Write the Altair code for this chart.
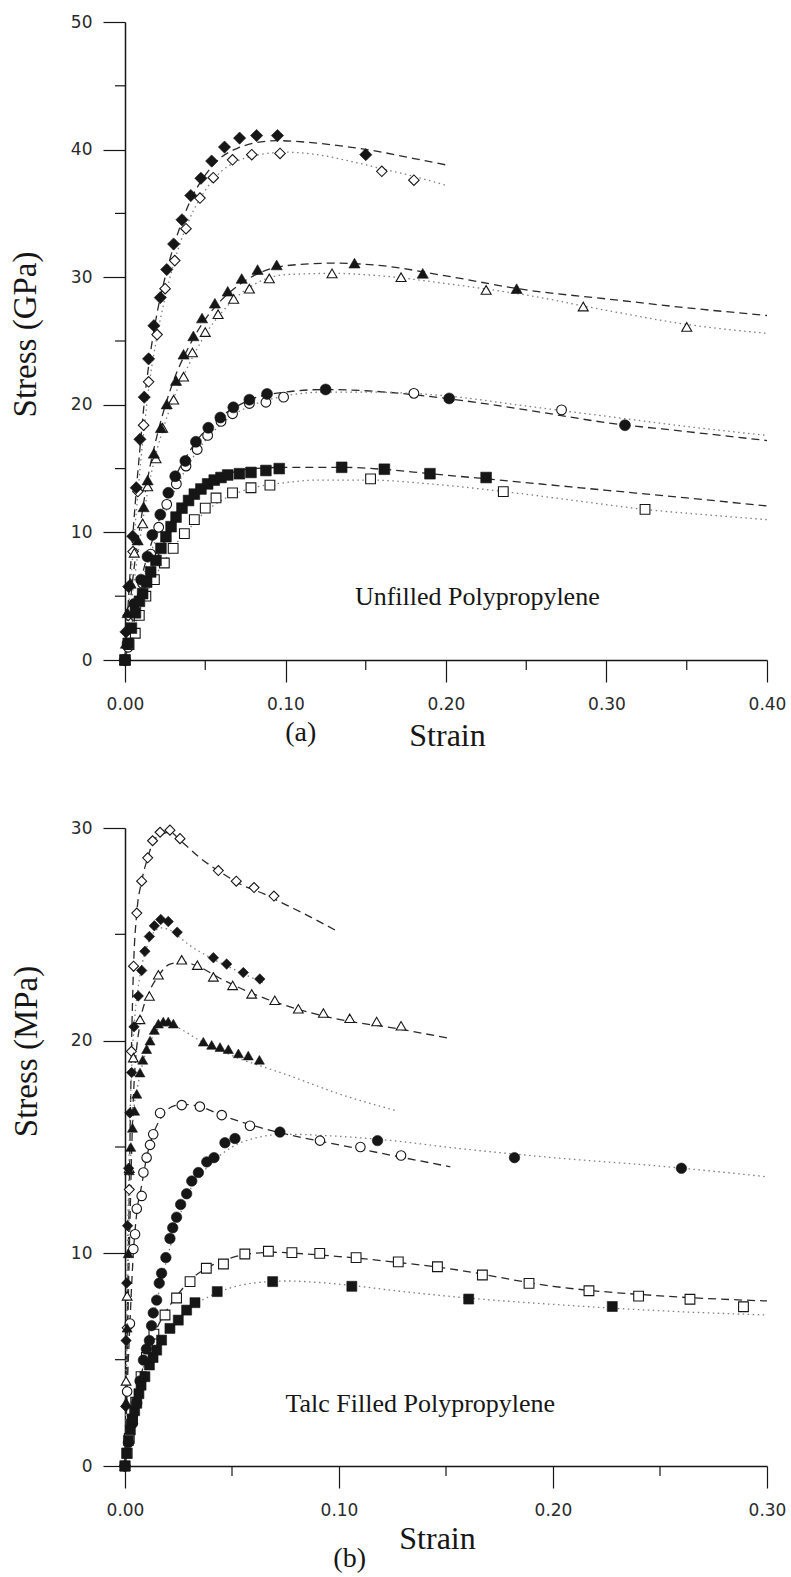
import altair as alt
import pandas as pd

# ---------------- (a) Unfilled polypropylene ----------------
# measured points, strain / stress (GPa)
a_dia_f_x = [0, 0.0006, 0.0023, 0.0048, 0.007, 0.0093, 0.012, 0.0147, 0.018, 0.022, 0.026, 0.0303,
             0.0355, 0.041, 0.0473, 0.054, 0.062, 0.0714, 0.082, 0.095, 0.15]
a_dia_f_y = [0, 2.2, 5.75, 9.7, 13.5, 17.3, 20.6, 23.6, 26.2, 28.4, 30.6, 32.6,
             34.5, 36.4, 37.75, 39.1, 40.2, 40.9, 41.1, 41.1, 39.6]
a_dia_o_x = [0, 0.002, 0.005, 0.008, 0.0116, 0.0147, 0.02, 0.025, 0.031, 0.038, 0.0467, 0.055,
             0.067, 0.079, 0.0966, 0.16, 0.18]
a_dia_o_y = [0, 3.5, 8.5, 13.2, 18.4, 21.8, 25.5, 29.1, 31.3, 33.8, 36.2, 37.8,
             39.2, 39.6, 39.7, 38.3, 37.6]
a_tri_f_x = [0, 0.0006, 0.0016, 0.0035, 0.0079, 0.0116, 0.0141, 0.018, 0.0224, 0.026, 0.0318, 0.0365,
             0.0426, 0.048, 0.056, 0.064, 0.0727, 0.0826, 0.0945, 0.143, 0.1855, 0.244]
a_tri_f_y = [0, 1.3, 3.7, 6.0, 9.4, 12.0, 14.1, 16.2, 18.2, 20.06, 21.9, 23.96,
             25.4, 26.8, 27.96, 28.9, 29.9, 30.6, 30.96, 31.1, 30.3, 29.1]
a_tri_o_x = [0, 0.003, 0.0058, 0.011, 0.0141, 0.0193, 0.0234, 0.0303, 0.0365, 0.042, 0.05, 0.058,
             0.0677, 0.0775, 0.0899, 0.129, 0.172, 0.225, 0.2855, 0.35]
a_tri_o_y = [0, 4.0, 8.4, 10.7, 13.6, 15.8, 18.2, 20.4, 22.2, 24.1, 25.7, 27.1,
             28.3, 29.1, 29.9, 30.3, 30.0, 29.0, 27.7, 26.1]
a_cir_f_x = [0, 0.0016, 0.0058, 0.01, 0.014, 0.017, 0.022, 0.027, 0.0313, 0.0376, 0.0442, 0.0519,
             0.0594, 0.0675, 0.0775, 0.0885, 0.125, 0.202, 0.3115]
a_cir_f_y = [0, 1.3, 4.4, 6.3, 8.1, 9.8, 11.4, 13.1, 14.4, 15.6, 17.1, 18.2,
             19.0, 19.8, 20.4, 20.85, 21.2, 20.5, 18.4]
a_cir_o_x = [0, 0.002, 0.006, 0.011, 0.016, 0.021, 0.026, 0.032, 0.038, 0.045, 0.0515, 0.0598,
             0.067, 0.0775, 0.0878, 0.0988, 0.18, 0.272]
a_cir_o_y = [0, 1.0, 3.5, 6.0, 8.3, 10.4, 12.2, 13.8, 15.2, 16.5, 17.6, 18.7,
             19.3, 20.1, 20.2, 20.6, 20.9, 19.6]
a_sq_f_x = [0, 0.002, 0.004, 0.0065, 0.009, 0.011, 0.0135, 0.016, 0.0193, 0.0224, 0.0255, 0.0287,
            0.0318, 0.0355, 0.0396, 0.0432, 0.0473, 0.0515, 0.0556, 0.0598, 0.064, 0.0713, 0.0785,
            0.0878, 0.0961, 0.135, 0.1616, 0.19, 0.225]
a_sq_f_y = [0, 1.3, 2.5, 3.7, 4.6, 5.2, 6.1, 6.9, 7.8, 8.75, 9.66, 10.45,
            11.2, 11.9, 12.5, 13.0, 13.4, 13.8, 14.1, 14.3, 14.5, 14.6, 14.7,
            14.85, 15.0, 15.1, 14.95, 14.6, 14.3]
a_sq_o_x = [0, 0.0025, 0.0064, 0.0089, 0.013, 0.0183, 0.0245, 0.03, 0.037, 0.0432, 0.05, 0.0567,
            0.067, 0.0785, 0.0903, 0.153, 0.2357, 0.324]
a_sq_o_y = [0, 1.2, 2.1, 3.5, 5.0, 6.3, 7.6, 8.75, 9.9, 11.0, 11.9, 12.7,
            13.1, 13.5, 13.7, 14.2, 13.2, 11.8]

# fitted curves (dashed = filled symbols, dotted = open symbols)
a_fit_dia_f_x = [0, 0.0025, 0.005, 0.0075, 0.01, 0.0125, 0.015, 0.02, 0.025, 0.03, 0.035, 0.04, 0.05,
                 0.06, 0.07, 0.08, 0.095, 0.12, 0.14, 0.16, 0.18, 0.2]
a_fit_dia_f_y = [0, 5.5, 10.0, 14.0, 17.5, 20.8, 23.3, 27.2, 30.0, 32.3, 34.2, 35.8, 38.0,
                 39.4, 40.1, 40.5, 40.7, 40.5, 40.2, 39.8, 39.3, 38.8]
a_fit_dia_o_x = [0, 0.0025, 0.005, 0.0075, 0.01, 0.0125, 0.015, 0.02, 0.025, 0.03, 0.035, 0.04, 0.05,
                 0.06, 0.07, 0.08, 0.1, 0.12, 0.14, 0.16, 0.18, 0.2]
a_fit_dia_o_y = [0, 4.5, 8.5, 12.3, 15.8, 18.8, 21.5, 25.4, 28.4, 30.9, 32.9, 34.5, 36.8,
                 38.3, 39.1, 39.5, 39.8, 39.6, 39.1, 38.5, 37.9, 37.2]
a_fit_tri_x = [0, 0.005, 0.01, 0.015, 0.02, 0.025, 0.03, 0.04, 0.05, 0.06, 0.07, 0.08, 0.1,
               0.13, 0.16, 0.2, 0.25, 0.3, 0.35, 0.4]
a_fit_tri_f_y = [0, 6.5, 11.0, 14.8, 17.6, 19.9, 21.8, 24.6, 26.7, 28.2, 29.3, 30.1, 30.9,
                 31.1, 30.9, 30.1, 29.0, 28.3, 27.6, 27.0]
a_fit_tri_o_y = [0, 5.5, 10.0, 13.8, 16.5, 18.6, 20.4, 23.2, 25.5, 27.2, 28.5, 29.4, 30.2,
                 30.3, 30.1, 29.5, 28.6, 27.4, 26.3, 25.6]
a_fit_cir_x = [0, 0.01, 0.02, 0.03, 0.04, 0.05, 0.06, 0.07, 0.08, 0.1, 0.125, 0.15, 0.2, 0.25,
               0.3, 0.35, 0.4]
a_fit_cir_f_y = [0, 6.3, 10.5, 14.0, 16.3, 18.0, 19.1, 19.9, 20.5, 21.0, 21.2, 21.1, 20.5, 19.6,
                 18.6, 17.9, 17.2]
a_fit_cir_o_y = [0, 5.8, 9.8, 13.0, 15.4, 17.2, 18.5, 19.4, 20.0, 20.7, 21.0, 21.0, 20.7, 19.9,
                 19.1, 18.3, 17.6]
a_fit_sq_f_x = [0, 0.01, 0.02, 0.03, 0.04, 0.05, 0.06, 0.07, 0.08, 0.1, 0.135, 0.16, 0.19, 0.225,
                0.3, 0.35, 0.4]
a_fit_sq_f_y = [0, 5.0, 8.0, 10.6, 12.5, 13.7, 14.4, 14.8, 15.0, 15.1, 15.1, 14.95, 14.6, 14.2,
                13.3, 12.7, 12.07]
a_fit_sq_o_x = [0, 0.01, 0.02, 0.03, 0.04, 0.05, 0.06, 0.07, 0.08, 0.1, 0.12, 0.153, 0.19, 0.236,
                0.28, 0.324, 0.36, 0.4]
a_fit_sq_o_y = [0, 4.2, 6.8, 8.8, 10.3, 11.6, 12.5, 13.1, 13.5, 13.9, 14.1, 14.1, 13.8, 13.2,
                12.5, 11.8, 11.4, 11.0]

# ---------------- (b) Talc filled polypropylene ----------------
# measured points, strain / stress (MPa)
b_dia_o_x = [0, 0.001, 0.002, 0.003, 0.004, 0.0055, 0.0078, 0.0106, 0.0129, 0.0164, 0.021, 0.0257,
             0.0436, 0.052, 0.0603, 0.0696]
b_dia_o_y = [0, 6.5, 13.0, 19.5, 23.5, 26.0, 27.5, 28.6, 29.4, 29.8, 29.9, 29.5,
             28.0, 27.5, 27.2, 26.8]
b_dia_f_x = [0, 0.0003, 0.0005, 0.0008, 0.0012, 0.0017, 0.0023, 0.0031, 0.0042, 0.0062, 0.0078,
             0.0093, 0.0114, 0.0137, 0.0167, 0.0202, 0.0244, 0.0413, 0.0475, 0.0553, 0.063]
b_dia_f_y = [0, 2.8, 5.9, 8.6, 11.3, 14.0, 16.6, 18.5, 20.65, 22.1, 23.3,
             24.2, 24.9, 25.4, 25.7, 25.6, 25.1, 23.9, 23.6, 23.2, 22.9]
b_tri_o_x = [0, 0.0005, 0.001, 0.002, 0.0039, 0.007, 0.0114, 0.0156, 0.0265, 0.0338, 0.0413, 0.0503,
             0.0592, 0.07, 0.081, 0.0927, 0.105, 0.1176, 0.129]
b_tri_o_y = [0, 4.0, 8.0, 14.0, 19.2, 21.0, 22.1, 23.1, 23.8, 23.55, 23.0, 22.6,
             22.2, 21.9, 21.5, 21.3, 21.05, 20.9, 20.7]
b_tri_f_x = [0, 0.0005, 0.001, 0.0015, 0.002, 0.0027, 0.0035, 0.0045, 0.0055, 0.007, 0.0083, 0.0101,
             0.0117, 0.0137, 0.0156, 0.0179, 0.0202, 0.0226, 0.0366, 0.0405, 0.0444, 0.0483, 0.053,
             0.0576, 0.0628]
b_tri_f_y = [0, 3.0, 6.5, 10.0, 13.9, 15.0, 15.9, 16.7, 17.5, 18.5, 19.1, 19.6,
             20.0, 20.5, 20.8, 20.9, 20.9, 20.8, 19.95, 19.8, 19.7, 19.6, 19.4,
             19.3, 19.1]
b_cir_o_x = [0, 0.001, 0.0023, 0.0039, 0.0047, 0.0055, 0.0078, 0.0086, 0.0101, 0.0117, 0.0132, 0.0164,
             0.0265, 0.035, 0.0452, 0.0584, 0.0911, 0.11, 0.129]
b_cir_o_y = [0, 3.5, 6.7, 10.2, 10.9, 12.1, 12.7, 13.8, 14.5, 15.1, 15.6, 16.6,
             16.97, 16.9, 16.5, 16.0, 15.3, 15.0, 14.6]
b_cir_f_x = [0, 0.0016, 0.0035, 0.0055, 0.007, 0.0086, 0.01, 0.0114, 0.0124, 0.0132, 0.0148, 0.016,
             0.0171, 0.0191, 0.021, 0.0223, 0.0241, 0.026, 0.0288, 0.0312, 0.0343, 0.0382, 0.0416,
             0.0467, 0.0514, 0.0724, 0.118, 0.182, 0.26]
b_cir_f_y = [0, 1.1, 2.0, 2.96, 4.0, 4.98, 5.5, 5.9, 6.6, 7.2, 7.8, 8.6,
             9.06, 9.8, 10.7, 11.2, 11.7, 12.3, 12.8, 13.4, 13.8, 14.3, 14.5,
             15.2, 15.4, 15.7, 15.3, 14.5, 14.0]
b_sq_o_x = [0, 0.001, 0.002, 0.0035, 0.005, 0.0075, 0.01, 0.0135, 0.0187, 0.0241, 0.0304, 0.038,
            0.046, 0.056, 0.067, 0.078, 0.091, 0.108, 0.1277, 0.146, 0.167, 0.1888, 0.2168, 0.24,
            0.264, 0.289]
b_sq_o_y = [0, 0.6, 1.3, 2.2, 3.0, 4.2, 5.1, 6.2, 7.1, 7.9, 8.67, 9.3,
            9.5, 9.97, 10.1, 10.03, 10.0, 9.8, 9.6, 9.37, 8.98, 8.59, 8.24, 7.99,
            7.84, 7.49]
b_sq_f_x = [0, 0.0008, 0.0016, 0.0025, 0.0035, 0.0045, 0.0055, 0.0065, 0.0075, 0.0093, 0.0114,
            0.0131, 0.0148, 0.0171, 0.021, 0.0249, 0.0288, 0.0327, 0.0431, 0.069, 0.106, 0.1606,
            0.2277]
b_sq_f_y = [0, 0.6, 1.2, 1.7, 2.2, 2.6, 2.95, 3.4, 3.8, 4.2, 4.75,
            5.1, 5.45, 5.92, 6.47, 6.86, 7.33, 7.68, 8.2, 8.67, 8.45, 7.85,
            7.5]

# fitted curves
b_fit_dia_o_x = [0, 0.001, 0.002, 0.003, 0.004, 0.0055, 0.0078, 0.0106, 0.013, 0.0165, 0.021, 0.026,
                 0.035, 0.045, 0.055, 0.065, 0.075, 0.087, 0.1]
b_fit_dia_o_y = [0, 6.5, 13.0, 19.5, 23.5, 26.0, 27.5, 28.6, 29.3, 29.7, 29.8, 29.4,
                 28.6, 27.9, 27.3, 26.9, 26.4, 25.8, 25.1]
b_fit_dia_f_x = [0, 0.001, 0.002, 0.003, 0.0045, 0.006, 0.008, 0.0105, 0.0135, 0.017, 0.021, 0.025,
                 0.03, 0.04, 0.05, 0.065]
b_fit_dia_f_y = [0, 9.0, 15.0, 18.5, 21.0, 22.4, 23.6, 24.5, 25.1, 25.3, 25.2, 24.9,
                 24.5, 23.9, 23.4, 22.7]
b_fit_tri_o_x = [0, 0.001, 0.002, 0.004, 0.007, 0.011, 0.016, 0.021, 0.027, 0.034, 0.045, 0.06,
                 0.08, 0.1, 0.125, 0.152]
b_fit_tri_o_y = [0, 5.0, 10.0, 17.5, 20.8, 22.2, 23.1, 23.6, 23.7, 23.5, 22.9, 22.2,
                 21.5, 21.0, 20.6, 20.1]
b_fit_tri_f_x = [0, 0.0008, 0.0016, 0.0025, 0.004, 0.006, 0.009, 0.012, 0.016, 0.02, 0.024, 0.035,
                 0.05, 0.0755, 0.1, 0.127]
b_fit_tri_f_y = [0, 5.0, 10.0, 14.0, 16.6, 17.9, 19.2, 20.0, 20.6, 20.8, 20.65, 20.0,
                 19.3, 18.4, 17.5, 16.7]
b_fit_cir_o_x = [0, 0.001, 0.0023, 0.0039, 0.0055, 0.0078, 0.0101, 0.0132, 0.017, 0.022, 0.027, 0.035,
                 0.045, 0.06, 0.08, 0.1, 0.125, 0.152]
b_fit_cir_o_y = [0, 3.5, 6.7, 10.0, 11.9, 13.2, 14.5, 15.6, 16.4, 16.9, 17.0, 16.9,
                 16.5, 16.0, 15.5, 15.1, 14.6, 14.07]
b_fit_cir_f_x = [0, 0.005, 0.01, 0.015, 0.02, 0.025, 0.03, 0.04, 0.05, 0.06, 0.075, 0.1, 0.125,
                 0.15, 0.2, 0.25, 0.3]
b_fit_cir_f_y = [0, 2.6, 5.4, 7.8, 9.9, 11.6, 12.9, 14.2, 15.0, 15.4, 15.6, 15.5, 15.3,
                 15.0, 14.5, 14.1, 13.6]
b_fit_sq_o_x = [0, 0.005, 0.01, 0.015, 0.02, 0.025, 0.03, 0.04, 0.05, 0.06, 0.07, 0.08, 0.1, 0.125,
                0.15, 0.2, 0.25, 0.3]
b_fit_sq_o_y = [0, 3.1, 5.2, 6.5, 7.4, 8.1, 8.7, 9.4, 9.8, 10.0, 10.05, 10.0, 9.85, 9.6,
                9.3, 8.45, 8.0, 7.76]
b_fit_sq_f_x = [0, 0.005, 0.01, 0.015, 0.02, 0.025, 0.03, 0.04, 0.05, 0.06, 0.075, 0.1, 0.13,
                0.16, 0.2, 0.25, 0.3]
b_fit_sq_f_y = [0, 2.6, 4.5, 5.7, 6.4, 6.9, 7.4, 8.0, 8.4, 8.6, 8.7, 8.55, 8.2,
                7.9, 7.6, 7.3, 7.1]

# axis ticks and labels
a_x_major = [0.0, 0.1, 0.2, 0.3, 0.4]
a_x_minor = [0.05, 0.15, 0.25, 0.35]
a_y_major = [0, 10, 20, 30, 40, 50]
a_y_minor = [5, 15, 25, 35, 45]
b_x_major = [0.0, 0.1, 0.2, 0.3]
b_x_minor = [0.05, 0.15, 0.25]
b_y_major = [0, 10, 20, 30]
b_y_minor = [5, 15, 25]

a_note = "Unfilled Polypropylene"
a_note_at = ([0.2195], [4.9])
b_note = "Talc Filled Polypropylene"
b_note_at = ([0.138], [2.9])
a_tag = "(a)"
b_tag = "(b)"
a_tag_x = [0.1095]
b_tag_x = [0.105]

W, H = 642, 638
INK = "#161616"
DASH = "#2a2a2a"
DOT = "#7d7d7d"
SERIF = "Liberation Serif"
SANS = "DejaVu Sans"


def frame(xs, ys):
    return pd.DataFrame({"strain": xs, "stress": ys})


def axes(xdom, ydom, xmajor, ymajor, ytitle, xt, yt):
    x = alt.X(
        "strain:Q",
        scale=alt.Scale(domain=xdom, nice=False, zero=False),
        axis=alt.Axis(
            values=xmajor, format=".2f", title="Strain",
            titleFont=SERIF, titleFontSize=32, titleFontWeight="normal", titleColor=INK,
            titleX=xt[0], titleY=xt[1], titleAlign="center", titleBaseline="alphabetic",
            labelFont=SANS, labelFontSize=17, labelColor="#2a2a2a", labelPadding=14,
            labelFlush=False, labelOverlap=False,
            tickSize=22, tickWidth=1.2, tickColor=INK,
            domainColor=INK, domainWidth=1.5, grid=False,
        ),
    )
    y = alt.Y(
        "stress:Q",
        scale=alt.Scale(domain=ydom, nice=False, zero=False),
        axis=alt.Axis(
            values=ymajor, format="d", title=ytitle,
            titleFont=SERIF, titleFontSize=33, titleFontWeight="normal", titleColor=INK,
            titleX=yt[0], titleY=yt[1], titleAngle=270, titleAlign="center",
            titleBaseline="middle",
            labelFont=SANS, labelFontSize=17, labelColor="#2a2a2a", labelPadding=11,
            labelOverlap=False,
            tickSize=22, tickWidth=1.2, tickColor=INK,
            domainColor=INK, domainWidth=1.5, grid=False,
        ),
    )
    return x, y


def curve(xs, ys, dotted, x, y):
    if dotted:
        m = alt.Chart(frame(xs, ys)).mark_line(
            interpolate="monotone", color=DOT, strokeWidth=1.3, strokeDash=[1.5, 3.5])
    else:
        m = alt.Chart(frame(xs, ys)).mark_line(
            interpolate="monotone", color=DASH, strokeWidth=1.3, strokeDash=[8, 5])
    return m.encode(x=x, y=y)


def symbols(xs, ys, shape, filled, size, x, y):
    if filled:
        m = alt.Chart(frame(xs, ys)).mark_point(
            shape=shape, filled=True, fill=INK, stroke=INK, strokeWidth=0.6,
            size=size, opacity=1)
    else:
        m = alt.Chart(frame(xs, ys)).mark_point(
            shape=shape, filled=True, fill="white", stroke=INK, strokeWidth=1.1,
            size=size, opacity=1)
    return m.encode(x=x, y=y)


def minor_ticks(xminor, yminor, x, y):
    xm = alt.Chart(frame(xminor, [0] * len(xminor))).mark_rule(
        color=INK, strokeWidth=1.2).encode(x=x, y=alt.value(H), y2=alt.value(H + 10))
    ym = alt.Chart(frame([0] * len(yminor), yminor)).mark_rule(
        color=INK, strokeWidth=1.2).encode(y=y, x=alt.value(0), x2=alt.value(-10))
    return [xm, ym]


def label(xs, ys, text, x, y):
    return alt.Chart(frame(xs, ys)).mark_text(
        text=text, font=SERIF, fontSize=26, color=INK, align="center", baseline="middle"
    ).encode(x=x, y=y)


def tag(xs, text, ypix, x):
    return alt.Chart(frame(xs, [0])).mark_text(
        text=text, font=SERIF, fontSize=28, color=INK, align="center", baseline="alphabetic"
    ).encode(x=x, y=alt.value(ypix))


# ----- panel (a)
ax, ay = axes([0, 0.4], [0, 50], a_x_major, a_y_major, "Stress (GPa)", (322, 85), (-100, 312))
layers_a = minor_ticks(a_x_minor, a_y_minor, ax, ay) + [
    curve(a_fit_dia_f_x, a_fit_dia_f_y, False, ax, ay),
    curve(a_fit_dia_o_x, a_fit_dia_o_y, True, ax, ay),
    curve(a_fit_tri_x, a_fit_tri_f_y, False, ax, ay),
    curve(a_fit_tri_x, a_fit_tri_o_y, True, ax, ay),
    curve(a_fit_cir_x, a_fit_cir_f_y, False, ax, ay),
    curve(a_fit_cir_x, a_fit_cir_o_y, True, ax, ay),
    curve(a_fit_sq_f_x, a_fit_sq_f_y, False, ax, ay),
    curve(a_fit_sq_o_x, a_fit_sq_o_y, True, ax, ay),
    symbols(a_dia_o_x, a_dia_o_y, "diamond", False, 110, ax, ay),
    symbols(a_tri_o_x, a_tri_o_y, "triangle-up", False, 100, ax, ay),
    symbols(a_cir_o_x, a_cir_o_y, "circle", False, 95, ax, ay),
    symbols(a_sq_o_x, a_sq_o_y, "square", False, 95, ax, ay),
    symbols(a_dia_f_x, a_dia_f_y, "diamond", True, 150, ax, ay),
    symbols(a_tri_f_x, a_tri_f_y, "triangle-up", True, 125, ax, ay),
    symbols(a_cir_f_x, a_cir_f_y, "circle", True, 120, ax, ay),
    symbols(a_sq_f_x, a_sq_f_y, "square", True, 115, ax, ay),
    label(*a_note_at, a_note, ax, ay),
    tag(a_tag_x, a_tag, 719, ax),
]
panel_a = alt.layer(*layers_a).properties(width=W, height=H)

# ----- panel (b)
bx, by = axes([0, 0.3], [0, 30], b_x_major, b_y_major, "Stress (MPa)", (312, 82), (-99, 223))
layers_b = minor_ticks(b_x_minor, b_y_minor, bx, by) + [
    curve(b_fit_dia_o_x, b_fit_dia_o_y, False, bx, by),
    curve(b_fit_dia_f_x, b_fit_dia_f_y, True, bx, by),
    curve(b_fit_tri_o_x, b_fit_tri_o_y, False, bx, by),
    curve(b_fit_tri_f_x, b_fit_tri_f_y, True, bx, by),
    curve(b_fit_cir_o_x, b_fit_cir_o_y, False, bx, by),
    curve(b_fit_cir_f_x, b_fit_cir_f_y, True, bx, by),
    curve(b_fit_sq_o_x, b_fit_sq_o_y, False, bx, by),
    curve(b_fit_sq_f_x, b_fit_sq_f_y, True, bx, by),
    symbols(b_dia_o_x, b_dia_o_y, "diamond", False, 100, bx, by),
    symbols(b_tri_o_x, b_tri_o_y, "triangle-up", False, 95, bx, by),
    symbols(b_cir_o_x, b_cir_o_y, "circle", False, 90, bx, by),
    symbols(b_sq_o_x, b_sq_o_y, "square", False, 95, bx, by),
    symbols(b_dia_f_x, b_dia_f_y, "diamond", True, 110, bx, by),
    symbols(b_tri_f_x, b_tri_f_y, "triangle-up", True, 100, bx, by),
    symbols(b_cir_f_x, b_cir_f_y, "circle", True, 110, bx, by),
    symbols(b_sq_f_x, b_sq_f_y, "square", True, 100, bx, by),
    label(*b_note_at, b_note, bx, by),
    tag(b_tag_x, b_tag, 739, bx),
]
panel_b = alt.layer(*layers_b).properties(width=W, height=H)

chart = alt.vconcat(panel_a, panel_b, spacing=168, bounds="flush").properties(
    padding={"left": 9, "top": 13, "right": 5, "bottom": 5},
    background="white",
).configure_view(stroke=None)

chart.save("out.html", embed_options={"renderer": "svg", "actions": False})
